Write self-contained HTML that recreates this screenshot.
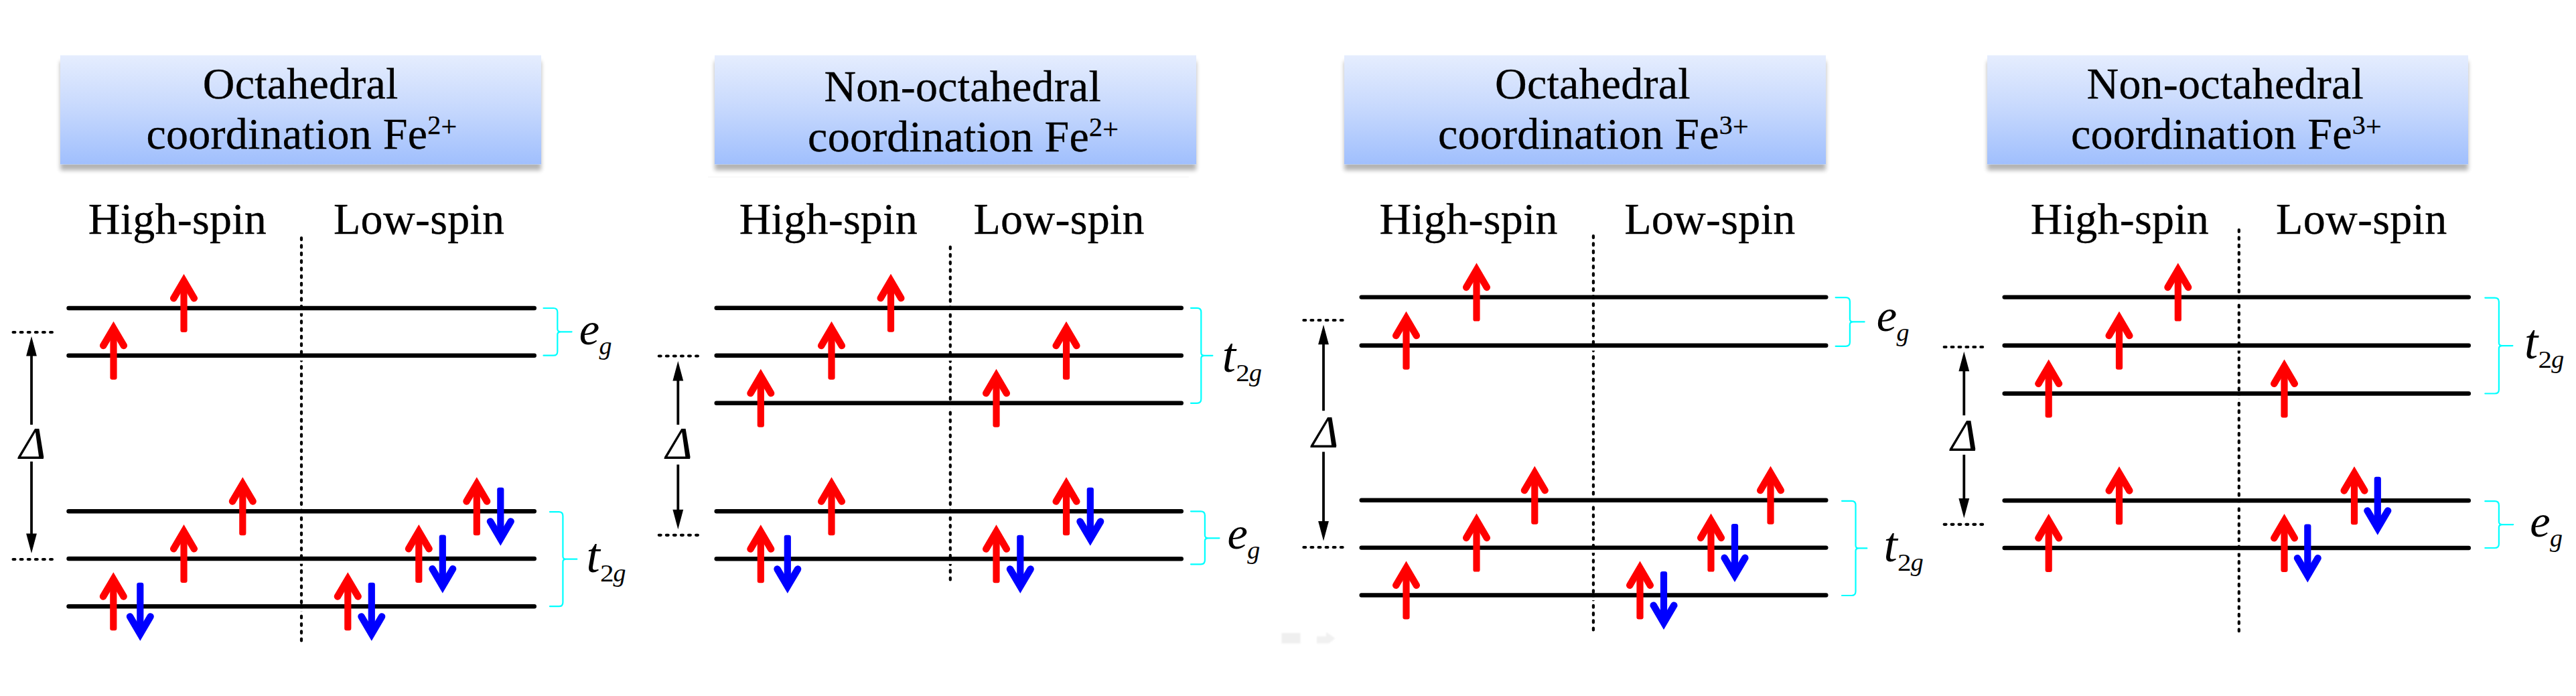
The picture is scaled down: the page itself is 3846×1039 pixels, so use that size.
<!DOCTYPE html>
<html lang="en"><head><meta charset="utf-8"><title>Fe spin states</title>
<style>
html,body{margin:0;padding:0;background:#fff;}
body{width:3846px;height:1039px;overflow:hidden;}
svg{display:block;position:absolute;left:0;top:0;}
text{font-family:"Liberation Serif", "DejaVu Serif", serif;fill:#000;}
.h{font-size:66px;stroke:#000;stroke-width:0.35px;}
.it{font-style:italic;}
.lv{stroke:#000;stroke-width:6.4;stroke-linecap:round;fill:none;}
.dt{stroke:#000;stroke-width:4.2;stroke-linecap:round;stroke-dasharray:2.8 8.5;fill:none;}
.br{stroke:#00ffff;stroke-width:2.2;fill:none;stroke-linejoin:round;stroke-linecap:round;}
.bk{stroke:#000;stroke-width:3.8;fill:none;}
</style></head><body>
<svg width="3846" height="1039" viewBox="0 0 3846 1039">
<defs>
<linearGradient id="bg" x1="0" y1="0" x2="0" y2="1">
<stop offset="0" stop-color="#e5edfe"/><stop offset="0.45" stop-color="#c9dafd"/><stop offset="1" stop-color="#a0bffd"/>
</linearGradient>
<filter id="sh" x="-5%" y="-20%" width="110%" height="150%">
<feGaussianBlur in="SourceAlpha" stdDeviation="3"/><feOffset dx="0" dy="8.5"/>
<feComponentTransfer><feFuncA type="linear" slope="0.3"/></feComponentTransfer>
<feMerge><feMergeNode/><feMergeNode in="SourceGraphic"/></feMerge>
</filter>
<filter id="bl" x="-20%" y="-20%" width="140%" height="140%"><feGaussianBlur stdDeviation="1"/></filter>
<g id="up">
<rect x="-5.1" y="10" width="10.2" height="77" rx="3.2" stroke="none"/>
<path d="M-15.3 36.3 L0 10.34 L15.3 36.3" stroke-width="10.5" stroke-linecap="round" stroke-linejoin="miter" stroke-miterlimit="10" fill="none"/>
</g>
<g id="ah"><path d="M0 0 L-7.9 29.5 L7.9 29.5 Z" fill="#000"/></g>
</defs>

<rect x="90" y="82.5" width="718" height="162.8" fill="url(#bg)" filter="url(#sh)"/>
<rect x="1067" y="82.5" width="719" height="162.8" fill="url(#bg)" filter="url(#sh)"/>
<rect x="2007" y="82.5" width="719" height="162.8" fill="url(#bg)" filter="url(#sh)"/>
<rect x="2967" y="82.5" width="718" height="162.8" fill="url(#bg)" filter="url(#sh)"/>
<text class="h" letter-spacing="0.22" x="302.8" y="147">Octahedral</text>
<text class="h" letter-spacing="0.25" x="218.4" y="222.3">coordination Fe<tspan font-size="40" dy="-22.3" letter-spacing="0">2</tspan><tspan font-size="42" dx="0.2" dy="3.4" letter-spacing="0">+</tspan></text>
<text class="h" letter-spacing="0.22" x="1230.4" y="151.4">Non-octahedral</text>
<text class="h" letter-spacing="0.25" x="1206.1" y="225.6">coordination Fe<tspan font-size="40" dy="-22.3" letter-spacing="0">2</tspan><tspan font-size="42" dx="0.2" dy="3.4" letter-spacing="0">+</tspan></text>
<text class="h" letter-spacing="0.22" x="2232.1" y="147">Octahedral</text>
<text class="h" letter-spacing="0.25" x="2146.9" y="222.3">coordination Fe<tspan font-size="40" dy="-22.3" letter-spacing="0">3</tspan><tspan font-size="42" dx="0.2" dy="3.4" letter-spacing="0">+</tspan></text>
<text class="h" letter-spacing="0.22" x="3115.5" y="147">Non-octahedral</text>
<text class="h" letter-spacing="0.25" x="3092.0" y="222.3">coordination Fe<tspan font-size="40" dy="-22.3" letter-spacing="0">3</tspan><tspan font-size="42" dx="0.2" dy="3.4" letter-spacing="0">+</tspan></text>
<text class="h" letter-spacing="0.25" x="131.8" y="349">High-spin</text>
<text class="h" letter-spacing="0.3" x="498.0" y="349">Low-spin</text>
<text class="h" letter-spacing="0.25" x="1103.7" y="349">High-spin</text>
<text class="h" letter-spacing="0.3" x="1453.5" y="349">Low-spin</text>
<text class="h" letter-spacing="0.25" x="2059.6" y="349">High-spin</text>
<text class="h" letter-spacing="0.3" x="2425.2" y="349">Low-spin</text>
<text class="h" letter-spacing="0.25" x="3031.8" y="349">High-spin</text>
<text class="h" letter-spacing="0.3" x="3398.1" y="349">Low-spin</text>
<path class="dt" style="stroke-dasharray:2.8 8.492" d="M450 355.1 V956.41"/>
<rect x="446" y="463" width="8" height="4.6" fill="#fff"/>
<rect x="446" y="533.7" width="8" height="4.6" fill="#fff"/>
<rect x="446" y="766.2" width="8" height="4.6" fill="#fff"/>
<rect x="446" y="837" width="8" height="4.6" fill="#fff"/>
<rect x="446" y="908.2" width="8" height="4.6" fill="#fff"/>
<path class="lv" d="M102.5 460 H797.8"/>
<path class="lv" d="M102.5 530.7 H797.8"/>
<path class="lv" d="M102.5 763.2 H797.8"/>
<path class="lv" d="M102.5 834 H797.8"/>
<path class="lv" d="M102.5 905.2 H797.8"/>
<use href="#up" x="169.5" y="479.70000000000005" stroke="#ff0000" fill="#ff0000"/>
<use href="#up" x="274.5" y="409" stroke="#ff0000" fill="#ff0000"/>
<use href="#up" x="169.3" y="854.2" stroke="#ff0000" fill="#ff0000"/>
<use href="#up" x="274.5" y="783" stroke="#ff0000" fill="#ff0000"/>
<use href="#up" x="362.3" y="712.2" stroke="#ff0000" fill="#ff0000"/>
<use href="#up" transform="translate(209.3 956.7) rotate(180)" stroke="#0000ff" fill="#0000ff"/>
<use href="#up" x="519.3" y="854.2" stroke="#ff0000" fill="#ff0000"/>
<use href="#up" transform="translate(554.8 956.7) rotate(180)" stroke="#0000ff" fill="#0000ff"/>
<use href="#up" x="625.3" y="783" stroke="#ff0000" fill="#ff0000"/>
<use href="#up" transform="translate(660.8 885.5) rotate(180)" stroke="#0000ff" fill="#0000ff"/>
<use href="#up" x="711.8" y="712.2" stroke="#ff0000" fill="#ff0000"/>
<use href="#up" transform="translate(747.3 814.7) rotate(180)" stroke="#0000ff" fill="#0000ff"/>
<path class="dt" style="stroke-dasharray:2.8 8.300" d="M19.6 496 H77.91000000000001"/>
<path class="dt" style="stroke-dasharray:2.8 8.300" d="M19.6 835 H77.91000000000001"/>
<use href="#ah" x="47" y="502"/>
<path class="bk" d="M47 527 V634"/>
<use href="#ah" transform="translate(47 826) rotate(180)"/>
<path class="bk" d="M47 689 V801"/>
<text class="it" font-size="68" x="28.5" y="684.2">Δ</text>
<path class="br" d="M811.5 460 H826.3 Q832.3 460 832.3 466 V491.35 Q832.3 495.35 837.3 495.35 H853.6 H837.3 Q832.3 495.35 832.3 499.35 V524.7 Q832.3 530.7 826.3 530.7 H811.5"/>
<text class="it" x="864.7" y="514.3" font-size="68.5">e</text>
<text class="it" x="894.4" y="529.3" font-size="38">g</text>
<path class="br" d="M821 764.2 H834.4 Q840.4 764.2 840.4 770.2 V830.7 Q840.4 834.7 845.4 834.7 H861.3 H845.4 Q840.4 834.7 840.4 838.7 V899.2 Q840.4 905.2 834.4 905.2 H821"/>
<text class="it" x="875.4" y="854" font-size="73">t</text>
<text x="0" y="0" font-size="36" transform="translate(895.9 868) scale(1.14 1)">2</text>
<text class="it" x="915.5999999999999" y="868" font-size="38">g</text>
<path class="dt" style="stroke-dasharray:2.8 8.427" d="M1418.8 368.6 V865.41"/>
<rect x="1414.8" y="462.8" width="8" height="4.6" fill="#fff"/>
<rect x="1414.8" y="533.8" width="8" height="4.6" fill="#fff"/>
<rect x="1414.8" y="604.8" width="8" height="4.6" fill="#fff"/>
<rect x="1414.8" y="766.3" width="8" height="4.6" fill="#fff"/>
<rect x="1414.8" y="837.3" width="8" height="4.6" fill="#fff"/>
<path class="lv" d="M1069.7 459.8 H1763.8"/>
<path class="lv" d="M1069.7 530.8 H1763.8"/>
<path class="lv" d="M1069.7 601.8 H1763.8"/>
<path class="lv" d="M1069.7 763.3 H1763.8"/>
<path class="lv" d="M1069.7 834.3 H1763.8"/>
<use href="#up" x="1135.8" y="550.8" stroke="#ff0000" fill="#ff0000"/>
<use href="#up" x="1241.5" y="479.79999999999995" stroke="#ff0000" fill="#ff0000"/>
<use href="#up" x="1330.0" y="408.8" stroke="#ff0000" fill="#ff0000"/>
<use href="#up" x="1135.8" y="783.3" stroke="#ff0000" fill="#ff0000"/>
<use href="#up" x="1241.5" y="712.3" stroke="#ff0000" fill="#ff0000"/>
<use href="#up" transform="translate(1175.8 885.8) rotate(180)" stroke="#0000ff" fill="#0000ff"/>
<use href="#up" x="1487.5" y="550.8" stroke="#ff0000" fill="#ff0000"/>
<use href="#up" x="1592.0" y="479.79999999999995" stroke="#ff0000" fill="#ff0000"/>
<use href="#up" x="1487.5" y="783.3" stroke="#ff0000" fill="#ff0000"/>
<use href="#up" transform="translate(1523.3 885.8) rotate(180)" stroke="#0000ff" fill="#0000ff"/>
<use href="#up" x="1592.0" y="712.3" stroke="#ff0000" fill="#ff0000"/>
<use href="#up" transform="translate(1627.8 814.8) rotate(180)" stroke="#0000ff" fill="#0000ff"/>
<path class="dt" style="stroke-dasharray:2.8 8.260" d="M983.8000000000001 531.5 H1041.91"/>
<path class="dt" style="stroke-dasharray:2.8 8.260" d="M983.8000000000001 798.8 H1041.91"/>
<use href="#ah" x="1012.3" y="539"/>
<path class="bk" d="M1012.3 564 V634"/>
<use href="#ah" transform="translate(1012.3 790.2) rotate(180)"/>
<path class="bk" d="M1012.3 693.5 V765.2"/>
<text class="it" font-size="68" x="993.8" y="684.4">Δ</text>
<path class="br" d="M1778 459.8 H1787.3 Q1793.3 459.8 1793.3 465.8 V526.8 Q1793.3 530.8 1798.3 530.8 H1810.4 H1798.3 Q1793.3 530.8 1793.3 534.8 V595.8 Q1793.3 601.8 1787.3 601.8 H1778"/>
<text class="it" x="1824.6999999999998" y="555" font-size="73">t</text>
<text x="0" y="0" font-size="36" transform="translate(1845.1999999999998 569) scale(1.14 1)">2</text>
<text class="it" x="1864.8999999999999" y="569" font-size="38">g</text>
<path class="br" d="M1778 763.3 H1792.9 Q1798.9 763.3 1798.9 769.3 V799.3 Q1798.9 803.3 1803.9 803.3 H1820.5 H1803.9 Q1798.9 803.3 1798.9 807.3 V836.3 Q1798.9 842.3 1792.9 842.3 H1778"/>
<text class="it" x="1832.5" y="819" font-size="68.5">e</text>
<text class="it" x="1862.2" y="834" font-size="38">g</text>
<path class="dt" style="stroke-dasharray:2.8 8.460" d="M2378.9 352.1 V940.41"/>
<rect x="2374.9" y="446.6" width="8" height="4.6" fill="#fff"/>
<rect x="2374.9" y="518.8" width="8" height="4.6" fill="#fff"/>
<rect x="2374.9" y="749.8" width="8" height="4.6" fill="#fff"/>
<rect x="2374.9" y="820.6" width="8" height="4.6" fill="#fff"/>
<rect x="2374.9" y="891.5" width="8" height="4.6" fill="#fff"/>
<path class="lv" d="M2032.7 443.6 H2726.3"/>
<path class="lv" d="M2032.7 515.8 H2726.3"/>
<path class="lv" d="M2032.7 746.8 H2726.3"/>
<path class="lv" d="M2032.7 817.6 H2726.3"/>
<path class="lv" d="M2032.7 888.5 H2726.3"/>
<use href="#up" x="2099.5" y="464.79999999999995" stroke="#ff0000" fill="#ff0000"/>
<use href="#up" x="2204.5" y="392.6" stroke="#ff0000" fill="#ff0000"/>
<use href="#up" x="2099.5" y="837.5" stroke="#ff0000" fill="#ff0000"/>
<use href="#up" x="2204.5" y="766.6" stroke="#ff0000" fill="#ff0000"/>
<use href="#up" x="2291.3" y="695.8" stroke="#ff0000" fill="#ff0000"/>
<use href="#up" x="2448.5" y="837.5" stroke="#ff0000" fill="#ff0000"/>
<use href="#up" transform="translate(2484.0 940.0) rotate(180)" stroke="#0000ff" fill="#0000ff"/>
<use href="#up" x="2554.5" y="766.6" stroke="#ff0000" fill="#ff0000"/>
<use href="#up" transform="translate(2590.0 869.1) rotate(180)" stroke="#0000ff" fill="#0000ff"/>
<use href="#up" x="2643.5" y="695.8" stroke="#ff0000" fill="#ff0000"/>
<path class="dt" style="stroke-dasharray:2.8 8.280" d="M1946.3999999999999 478 H2004.6100000000001"/>
<path class="dt" style="stroke-dasharray:2.8 8.280" d="M1946.3999999999999 817 H2004.6100000000001"/>
<use href="#ah" x="1976" y="484.8"/>
<path class="bk" d="M1976 509.8 V613.2"/>
<use href="#ah" transform="translate(1976 807.6) rotate(180)"/>
<path class="bk" d="M1976 674.5 V782.6"/>
<text class="it" font-size="68" x="1958.6" y="667.0">Δ</text>
<path class="br" d="M2740.6 444.1 H2755.9 Q2761.9 444.1 2761.9 450.1 V476.45 Q2761.9 480.45 2766.9 480.45 H2783.6 H2766.9 Q2761.9 480.45 2761.9 484.45 V510.79999999999995 Q2761.9 516.8 2755.9 516.8 H2740.6"/>
<text class="it" x="2801.7999999999997" y="494.3" font-size="68.5">e</text>
<text class="it" x="2831.5" y="509.3" font-size="38">g</text>
<path class="br" d="M2750 747.8 H2764.5 Q2770.5 747.8 2770.5 753.8 V814.4 Q2770.5 818.4 2775.5 818.4 H2787.3 H2775.5 Q2770.5 818.4 2770.5 822.4 V883.0 Q2770.5 889.0 2764.5 889.0 H2750"/>
<text class="it" x="2812.5" y="837.5" font-size="73">t</text>
<text x="0" y="0" font-size="36" transform="translate(2833.0 851.5) scale(1.14 1)">2</text>
<text class="it" x="2852.7000000000003" y="851.5" font-size="38">g</text>
<path class="dt" style="stroke-dasharray:2.8 8.451" d="M3342.8 343.1 V942.2099999999999"/>
<rect x="3338.8" y="446.6" width="8" height="4.6" fill="#fff"/>
<rect x="3338.8" y="518.8" width="8" height="4.6" fill="#fff"/>
<rect x="3338.8" y="590.5" width="8" height="4.6" fill="#fff"/>
<rect x="3338.8" y="750.2" width="8" height="4.6" fill="#fff"/>
<rect x="3338.8" y="821" width="8" height="4.6" fill="#fff"/>
<path class="lv" d="M2992.7 443.6 H3685.8"/>
<path class="lv" d="M2992.7 515.8 H3685.8"/>
<path class="lv" d="M2992.7 587.5 H3685.8"/>
<path class="lv" d="M2992.7 747.2 H3685.8"/>
<path class="lv" d="M2992.7 818 H3685.8"/>
<use href="#up" x="3058.7" y="536.5" stroke="#ff0000" fill="#ff0000"/>
<use href="#up" x="3164.0" y="464.79999999999995" stroke="#ff0000" fill="#ff0000"/>
<use href="#up" x="3251.8" y="392.6" stroke="#ff0000" fill="#ff0000"/>
<use href="#up" x="3058.7" y="767" stroke="#ff0000" fill="#ff0000"/>
<use href="#up" x="3164.0" y="696.2" stroke="#ff0000" fill="#ff0000"/>
<use href="#up" x="3410.5" y="536.5" stroke="#ff0000" fill="#ff0000"/>
<use href="#up" x="3410.5" y="767" stroke="#ff0000" fill="#ff0000"/>
<use href="#up" transform="translate(3445.3 869.5) rotate(180)" stroke="#0000ff" fill="#0000ff"/>
<use href="#up" x="3515.0" y="696.2" stroke="#ff0000" fill="#ff0000"/>
<use href="#up" transform="translate(3549.8 798.7) rotate(180)" stroke="#0000ff" fill="#0000ff"/>
<path class="dt" style="stroke-dasharray:2.8 8.120" d="M2902.7 518 H2960.11"/>
<path class="dt" style="stroke-dasharray:2.8 8.120" d="M2902.7 782.8 H2960.11"/>
<use href="#ah" x="2932.3" y="524.8"/>
<path class="bk" d="M2932.3 549.8 V620.1"/>
<use href="#ah" transform="translate(2932.3 773.4) rotate(180)"/>
<path class="bk" d="M2932.3 678.8 V748.4"/>
<text class="it" font-size="68" x="2912.6" y="672.0">Δ</text>
<path class="br" d="M3710.3 444.6 H3724.9 Q3730.9 444.6 3730.9 450.6 V512.05 Q3730.9 516.05 3735.9 516.05 H3751.4 H3735.9 Q3730.9 516.05 3730.9 520.05 V581.5 Q3730.9 587.5 3724.9 587.5 H3710.3"/>
<text class="it" x="3769.1" y="534.5" font-size="73">t</text>
<text x="0" y="0" font-size="36" transform="translate(3789.6 548.5) scale(1.14 1)">2</text>
<text class="it" x="3809.3" y="548.5" font-size="38">g</text>
<path class="br" d="M3710.3 748.2 H3724.9 Q3730.9 748.2 3730.9 754.2 V779.1 Q3730.9 783.1 3735.9 783.1 H3752.2 H3735.9 Q3730.9 783.1 3730.9 787.1 V812 Q3730.9 818 3724.9 818 H3710.3"/>
<text class="it" x="3777.2" y="800.7" font-size="68.5">e</text>
<text class="it" x="3806.9" y="815.7" font-size="38">g</text>
<g filter="url(#bl)"><rect x="1913.5" y="945" width="28" height="15.5" fill="#efefef"/><path d="M1966 950 H1980 V943.5 L1993.5 953 L1984 960.5 H1966 Z" fill="#f1f1f1"/></g>
<rect x="1057" y="263.6" width="718" height="1" fill="#f4f4f4"/>
</svg></body></html>
